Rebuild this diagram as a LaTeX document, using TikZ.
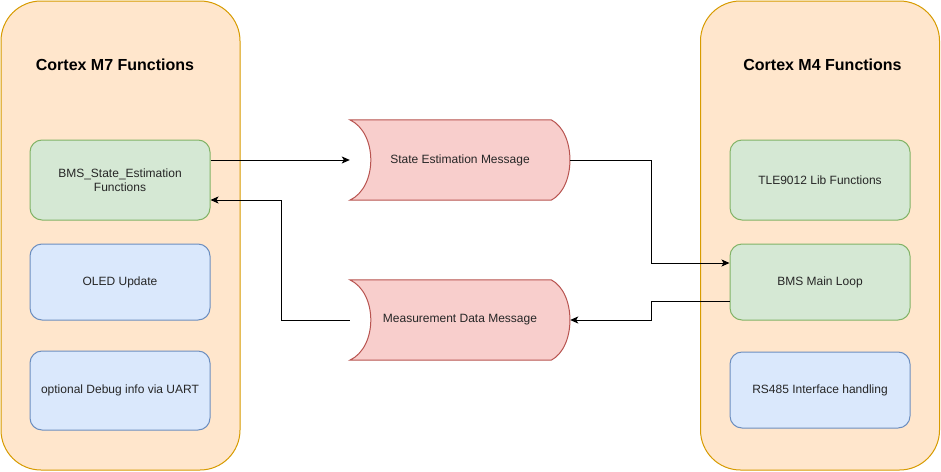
\documentclass[tikz,border=0pt]{standalone}
\usepackage{fontspec}
\setmainfont{Liberation Sans}
\usetikzlibrary{arrows.meta,calc,backgrounds}
\definecolor{contfill}{HTML}{FFE6CC}
\definecolor{contdraw}{HTML}{D79B00}
\definecolor{grfill}{HTML}{D5E8D4}
\definecolor{grdraw}{HTML}{82B366}
\definecolor{blfill}{HTML}{DAE8FC}
\definecolor{bldraw}{HTML}{6C8EBF}
\definecolor{rdfill}{HTML}{F8CECC}
\definecolor{rddraw}{HTML}{B85450}
\tikzset{
  container/.style={draw=contdraw,fill=contfill,line width=1pt,rounded corners=40pt,minimum width=239pt,minimum height=469pt,inner sep=0pt},
  title/.style={font=\bfseries\fontsize{16}{19}\selectfont,inner sep=0pt},
  fbox/.style={line width=1pt,rounded corners=12pt,minimum width=180pt,inner sep=0pt,align=center,font=\fontsize{12}{14}\selectfont,text=black!85},
  gbox/.style={fbox,draw=grdraw,fill=grfill},
  bbox/.style={fbox,draw=bldraw,fill=blfill},
  msg/.style={minimum width=220pt,minimum height=80pt,inner sep=0pt,font=\fontsize{12}{14}\selectfont,text=black!85},
  msgshape/.style={draw=rddraw,fill=rdfill,line width=1pt},
  arr/.style={line width=1pt,-{Stealth[length=8pt,width=7pt,inset=2pt]}}
}
\begin{document}
\begin{tikzpicture}[x=1pt,y=-1pt]
\useasboundingbox (0,0) rectangle (941,471);
% containers
\node[container] (m7) at (120.5,235.5) {};
\node[container] (m4) at (820,235.5) {};
\node[title] (m7t) at (115,65) {Cortex M7 Functions};
\node[title] (m4t) at (822.5,65) {Cortex M4 Functions};
% left boxes
\node[gbox,minimum height=80pt] (bse) at (120,180) {BMS\_State\_Estimation\\Functions};
\node[bbox,minimum height=76pt] (oled) at (120,282) {OLED Update};
\node[bbox,minimum height=79pt] (dbg) at (120,390.5) {optional Debug info via UART};
% right boxes
\node[gbox,minimum height=80pt] (tle) at (820,180) {TLE9012 Lib Functions};
\node[gbox,minimum height=76pt] (bml) at (820,282) {BMS Main Loop};
\node[bbox,minimum height=76pt] (rs) at (820,390) {RS485 Interface handling};
% messages
\node[msg] (sem) at (460,160) {State Estimation Message};
\node[msg] (mdm) at (460,320) {Measurement Data Message};
\begin{scope}[on background layer]
\foreach \m in {sem,mdm}{
  \draw[msgshape] (\m.north west) -- ([xshift=-19pt]\m.north east)
    .. controls ([xshift=6pt,yshift=-13pt]\m.north east) and ([xshift=6pt,yshift=13pt]\m.south east) .. ([xshift=-19pt]\m.south east)
    -- (\m.south west)
    .. controls ([xshift=28pt,yshift=13pt]\m.south west) and ([xshift=28pt,yshift=-13pt]\m.north west) .. (\m.north west) -- cycle;
}
\end{scope}
% connector coordinates
\coordinate (j) at (651,0);
\coordinate (k) at (281,0);
\coordinate (out1) at ([yshift=20pt]bse.east);
\coordinate (in2) at ([yshift=-20pt]bse.east);
\coordinate (in1) at ([yshift=19pt]bml.west);
\coordinate (out2) at ([yshift=-19pt]bml.west);
% connectors
\draw[arr] (out1) -- (out1 -| sem.west);
\draw[arr] (sem.east) -- (sem.east -| j) -- (j |- in1) -- (in1);
\draw[arr] (out2) -- (out2 -| j) -- (j |- mdm.east) -- (mdm.east);
\draw[arr] (mdm.west) -- (mdm.west -| k) -- (k |- in2) -- (in2);
\end{tikzpicture}
\end{document}
